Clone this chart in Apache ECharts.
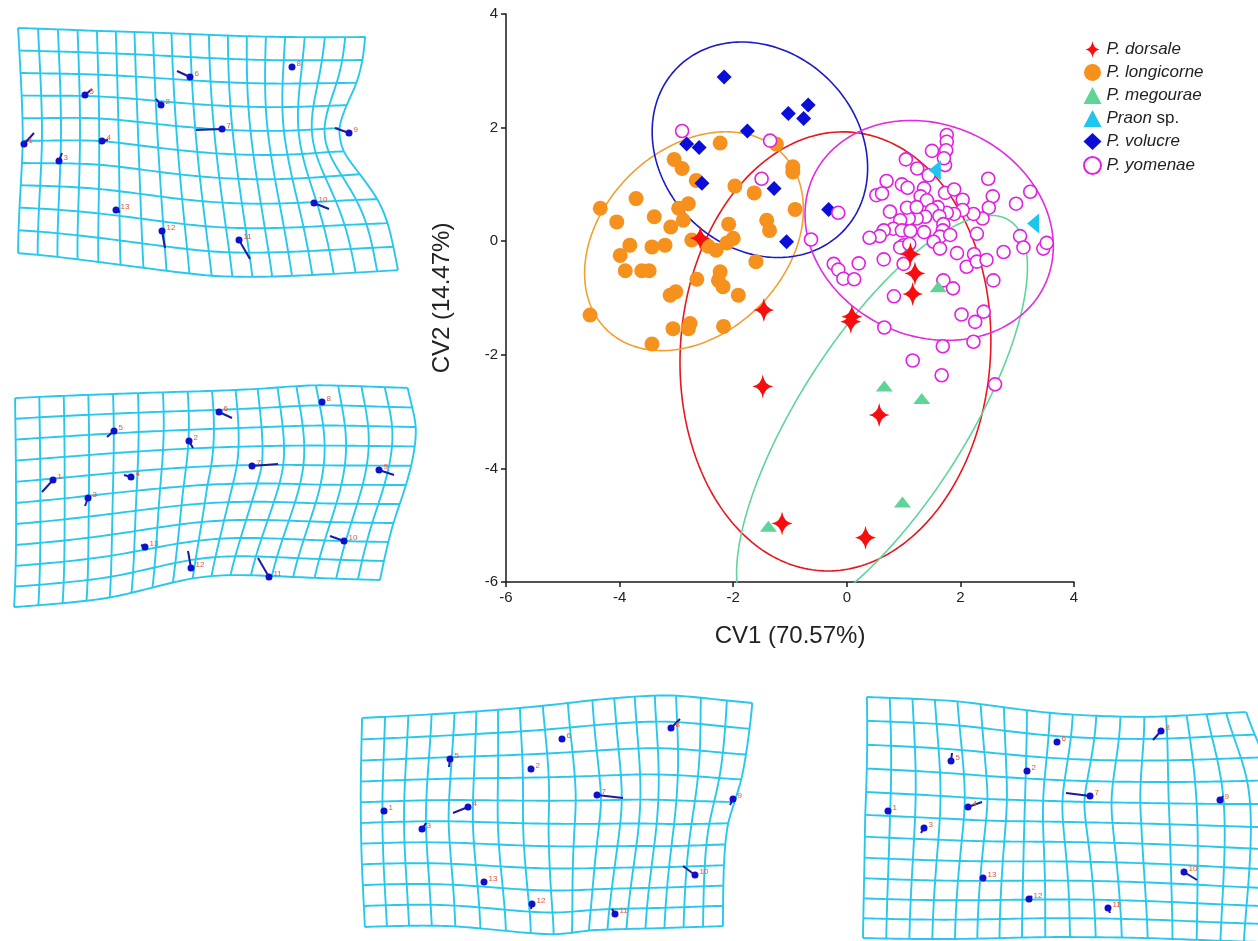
<!DOCTYPE html>
<html>
<head>
<meta charset="utf-8">
<script src="https://cdn.jsdelivr.net/npm/echarts@6/dist/echarts.min.js"></script>
<style>
html,body{margin:0;padding:0;background:#fff;}
#chart{width:1258px;height:941px;}
</style>
</head>
<body>
<div id="chart"></div>
<script>
// ---------- CVA scores (CV1, CV2) per species ----------
const dorsale = [[-2.58,0.05],[-1.46,-1.21],[0.09,-1.33],[0.07,-1.42],[-1.48,-2.56],[0.57,-3.06],
  [-1.14,-4.97],[0.33,-5.22],[1.16,-0.93],[1.12,-0.23],[1.20,-0.57]];
const longicorne = [[-2.23,1.73],[-1.24,1.71],[-3.04,1.44],[-2.90,1.28],[-0.95,1.31],[-0.95,1.22],
  [-2.65,1.07],[-1.97,0.97],[-1.63,0.85],[-3.71,0.75],[-4.34,0.58],[-2.79,0.66],[-2.96,0.58],
  [-2.88,0.37],[-3.10,0.25],[-4.05,0.34],[-3.39,0.43],[-0.91,0.56],[-1.41,0.37],[-1.36,0.19],
  [-2.08,0.30],[-2.00,0.05],[-2.11,-0.03],[-2.73,0.02],[-2.44,-0.09],[-2.30,-0.16],[-3.82,-0.07],
  [-3.99,-0.25],[-3.43,-0.10],[-3.20,-0.07],[-1.60,-0.36],[-3.90,-0.52],[-3.61,-0.52],[-3.48,-0.52],
  [-2.64,-0.67],[-2.23,-0.54],[-2.26,-0.69],[-2.18,-0.80],[-1.91,-0.95],[-3.11,-0.95],[-3.01,-0.89],
  [-4.52,-1.30],[-3.06,-1.54],[-2.76,-1.45],[-2.79,-1.54],[-2.17,-1.50],[-3.43,-1.81]];
const megourae = [[0.66,-2.55],[1.32,-2.77],[0.98,-4.59],[-1.38,-5.02],[1.61,-0.80]];
const praon = [[1.55,1.25],[3.28,0.31]];
const volucre = [[-2.16,2.89],[-1.03,2.25],[-0.68,2.40],[-0.76,2.16],[-1.75,1.94],[-2.82,1.71],
  [-2.60,1.65],[-2.55,1.02],[-1.28,0.93],[-0.32,0.56],[-1.06,-0.01]];
const yomenae = [[1.76,1.87],[1.76,1.75],[1.75,1.60],[1.50,1.59],[1.04,1.44],[1.24,1.28],[1.73,1.34],
  [1.71,1.46],[1.44,1.16],[0.70,1.06],[0.52,0.81],[0.62,0.84],[0.97,1.00],[1.07,0.94],[1.36,0.93],
  [1.30,0.79],[1.41,0.72],[1.73,0.85],[1.89,0.91],[2.04,0.73],[2.49,1.10],[2.57,0.79],[2.50,0.59],
  [2.39,0.40],[2.23,0.48],[2.04,0.55],[1.89,0.48],[1.76,0.50],[1.60,0.60],[1.50,0.55],[1.63,0.44],
  [1.38,0.43],[1.23,0.40],[1.09,0.40],[0.94,0.37],[0.76,0.52],[1.06,0.59],[1.23,0.60],[0.82,0.22],
  [0.65,0.19],[0.58,0.09],[0.40,0.06],[0.97,0.19],[1.12,0.18],[1.36,0.16],[1.70,0.30],[1.69,0.19],
  [1.64,0.08],[1.82,0.11],[1.53,-0.01],[1.64,-0.13],[1.00,-0.07],[0.94,-0.11],[0.65,-0.32],
  [1.00,-0.40],[1.10,-0.05],[1.94,-0.21],[2.29,0.13],[2.24,-0.23],[2.11,-0.45],[2.29,-0.36],
  [2.46,-0.33],[2.76,-0.19],[2.58,-0.69],[2.98,0.66],[3.23,0.87],[3.05,0.09],[3.11,-0.11],
  [3.46,-0.13],[3.52,-0.03],[0.21,-0.39],[-0.23,-0.40],[-0.15,-0.50],[-0.06,-0.66],[0.13,-0.67],
  [-0.15,0.50],[-0.63,0.03],[0.83,-0.97],[1.70,-0.69],[1.87,-0.83],[2.02,-1.29],[2.26,-1.42],
  [2.41,-1.24],[2.23,-1.77],[1.69,-1.85],[1.16,-2.10],[1.67,-2.36],[2.61,-2.52],[0.66,-1.52],
  [-2.90,1.94],[-1.35,1.77],[-1.50,1.10]];

// 95% confidence ellipses: [centre x, centre y, semi-major, semi-minor, angle in degrees]
const ellDorsale = [-0.20, -1.94, 3.87, 2.73, 86];
const ellLongicorne = [-2.69, 0.00, 2.19, 1.62, 45];
const ellMegourae = [0.62, -3.15, 4.17, 1.47, 57.5];
const ellVolucre = [-1.53, 1.61, 2.05, 1.73, -45];
const ellYomenae = [1.45, 0.19, 2.25, 1.86, -25];

const axisTicks = [-6, -4, -2, 0, 2, 4];

// ---------- deformation grids (thin-plate spline) ----------
// control nodes: [column, row, x, y] in each panel's local frame
const warpA = [[0,0,18,8],[4,0,97,11],[9,0,190,14],[14,0,285,17],[18,0,365,17],
  [0,5,23,121],[4,5,99,117],[9,5,197,132],[14,5,291,135],
  [18,1,363,40],[18,2,358,63],[18,3,347,85],[18,4,337,108],[18,5,341,132],[18,6,360,153],
  [18,7,380,180],[18,8,388,203],[18,9,393,227],
  [0,10,18,233],[4,10,98,242],[9,10,212,256],[14,10,312,255],[18,10,398,250]];
const warpB = [[0,0,15,23],[4,0,113,19],[8,0,212,16],[10,0,258,14],[13,0,315,10],[17,0,407,13],
  [0,5,16,128],[4,5,113,117],[8,5,200,109],[10,4,274,90],[13,5,320,112],
  [17,2,417,52],[17,5,406,110],[17,7,393,148],
  [0,10,14,232],[4,10,110,223],[8,10,193,203],[10,10,230,200],[13,10,293,202],[17,10,380,205]];
const warpC = [[0,0,7,38],[4,0,100,33],[8,0,187,26],[10,0,238,20],[14,0,320,15],[17,0,398,23],
  [0,5,6,143],[4,5,89,140],[8,5,187,144],[10,4,260,122],[14,5,320,147],
  [17,3,387,100],[17,5,372,143],
  [0,10,10,247],[4,10,100,246],[8,10,200,255],[10,10,233,250],[17,10,368,246]];
const warpD = [[0,0,12,17],[4,0,102,21],[8,0,195,33],[12,0,290,37],[17,0,390,32],
  [0,5,10,135],[5,4,143,122],[8,4,187,120],[10,4,213,122],[12,5,290,143],
  [17,3,418,100],[17,6,420,170],
  [0,11,8,258],[4,11,100,259],[8,11,190,257],[12,11,293,258],[17,11,412,262]];
// smoothing of the spline fit: edge nodes are held tighter than interior nodes
const edgeSmoothing = 3;
const innerSmoothing = 30;

// landmarks: [number, x, y, vector end x, vector end y]
const lmA = [[1,24,124,34,113],[2,161,85,156,79],[3,59,141,62,133],[4,102,121,108,120],
  [5,85,75,92,69],[6,190,57,177,51],[7,222,109,196,110],[8,292,47,293,46],[9,349,113,335,108],
  [10,314,183,329,189],[11,239,220,250,239],[12,162,211,165,228],[13,116,190,120,192]];
const lmB = [[1,53,105,42,117],[2,189,66,193,73],[3,88,123,85,131],[4,131,102,124,100],
  [5,114,56,107,62],[6,219,37,232,43],[7,252,91,278,89],[8,322,27,322,27],[9,379,95,394,100],
  [10,344,166,330,161],[11,269,202,258,183],[12,191,193,188,176],[13,145,172,141,170]];
const lmC = [[1,29,131,29,131],[2,176,89,176,89],[3,67,149,71,143],[4,113,127,98,133],
  [5,95,79,94,87],[6,207,59,207,59],[7,242,115,268,118],[8,316,48,325,39],[9,378,119,375,125],
  [10,340,195,328,186],[11,260,234,257,229],[12,177,224,176,229],[13,129,202,129,202]];
const lmD = [[1,33,131,33,131],[2,172,91,172,91],[3,69,148,66,153],[4,113,127,127,122],
  [5,96,81,97,73],[6,202,62,202,62],[7,235,116,211,113],[8,306,51,298,60],[9,365,120,368,116],
  [10,329,192,342,200],[11,253,228,255,233],[12,174,219,177,216],[13,128,198,128,198]];

// ---------- helpers ----------
function ellipse(p) {
  const [cx, cy, a, b, deg] = p;
  const t0 = deg * Math.PI / 180, c = Math.cos(t0), s = Math.sin(t0);
  const pts = [];
  for (let i = 0; i <= 240; i++) {
    const t = i / 240 * 2 * Math.PI;
    const ex = a * Math.cos(t), ey = b * Math.sin(t);
    pts.push([cx + ex * c - ey * s, cy + ex * s + ey * c]);
  }
  return pts;
}

function solveLinear(M, rhs) {
  const n = rhs.length;
  const A = M.map((r, i) => r.concat([rhs[i]]));
  for (let k = 0; k < n; k++) {
    let piv = k;
    for (let i = k + 1; i < n; i++) if (Math.abs(A[i][k]) > Math.abs(A[piv][k])) piv = i;
    [A[k], A[piv]] = [A[piv], A[k]];
    for (let i = k + 1; i < n; i++) {
      const f = A[i][k] / A[k][k];
      for (let j = k; j <= n; j++) A[i][j] -= f * A[k][j];
    }
  }
  const x = new Array(n).fill(0);
  for (let i = n - 1; i >= 0; i--) {
    let s = A[i][n];
    for (let j = i + 1; j < n; j++) s -= A[i][j] * x[j];
    x[i] = s / A[i][i];
  }
  return x;
}

function kernel(r2) { return r2 === 0 ? 0 : r2 * Math.log(r2); }

function tps(ctrl, cols, rows) {
  const n = ctrl.length, m = n + 3;
  const L = [];
  for (let i = 0; i < m; i++) L.push(new Array(m).fill(0));
  for (let i = 0; i < n; i++) {
    const onEdge = ctrl[i][0] === 0 || ctrl[i][0] === cols || ctrl[i][1] === 0 || ctrl[i][1] === rows;
    for (let j = 0; j < n; j++) {
      const du = ctrl[i][0] - ctrl[j][0], dv = ctrl[i][1] - ctrl[j][1];
      L[i][j] = kernel(du * du + dv * dv);
    }
    L[i][i] += onEdge ? edgeSmoothing : innerSmoothing;
    L[i][n] = 1; L[i][n + 1] = ctrl[i][0]; L[i][n + 2] = ctrl[i][1];
    L[n][i] = 1; L[n + 1][i] = ctrl[i][0]; L[n + 2][i] = ctrl[i][1];
  }
  const wx = solveLinear(L, ctrl.map(p => p[2]).concat([0, 0, 0]));
  const wy = solveLinear(L, ctrl.map(p => p[3]).concat([0, 0, 0]));
  return function (u, v) {
    let x = wx[n] + wx[n + 1] * u + wx[n + 2] * v;
    let y = wy[n] + wy[n + 1] * u + wy[n + 2] * v;
    for (let i = 0; i < n; i++) {
      const du = u - ctrl[i][0], dv = v - ctrl[i][1];
      const k = kernel(du * du + dv * dv);
      x += wx[i] * k; y += wy[i] * k;
    }
    return [x, y];
  };
}

function meshLines(ctrl, cols, rows) {
  const f = tps(ctrl, cols, rows), out = [], st = 0.2;
  for (let r = 0; r <= rows; r++) {
    const pts = [];
    for (let u = 0; u <= cols + 1e-9; u += st) pts.push(f(u, r));
    out.push({ coords: pts });
  }
  for (let c = 0; c <= cols; c++) {
    const pts = [];
    for (let v = 0; v <= rows + 1e-9; v += st) pts.push(f(c, v));
    out.push({ coords: pts });
  }
  return out;
}

// ---------- option ----------
const FONT = 'Arial, "Liberation Sans", Helvetica, sans-serif';
const panels = [
  { box: { left: 0, top: 20, width: 420, height: 260 }, ctrl: warpA, cols: 18, rows: 10, lm: lmA },
  { box: { left: 0, top: 375, width: 420, height: 240 }, ctrl: warpB, cols: 17, rows: 10, lm: lmB },
  { box: { left: 355, top: 680, width: 420, height: 261 }, ctrl: warpC, cols: 17, rows: 10, lm: lmC },
  { box: { left: 855, top: 680, width: 403, height: 261 }, ctrl: warpD, cols: 17, rows: 11, lm: lmD }
];

const grids = [{ left: 506, top: 14, width: 568, height: 568 }];
const axisCommon = {
  type: 'value', gridIndex: 0, min: axisTicks[0], max: axisTicks[axisTicks.length - 1],
  interval: axisTicks[1] - axisTicks[0],
  axisLine: { onZero: false, lineStyle: { color: '#1a1a1a', width: 1.5 } },
  axisTick: { length: 5, lineStyle: { color: '#1a1a1a', width: 1.5 } },
  axisLabel: { fontSize: 15, color: '#222', fontFamily: FONT, margin: 8 },
  splitLine: { show: false },
  nameLocation: 'middle',
  nameTextStyle: { fontSize: 24, color: '#222', fontFamily: FONT }
};
const xAxes = [Object.assign({}, axisCommon, { name: 'CV1 (70.57%)', nameGap: 42 })];
const yAxes = [Object.assign({}, axisCommon, { name: 'CV2 (14.47%)', nameGap: 52 })];

const series = [];
function ellSeries(name, p, color) {
  series.push({
    name: name, type: 'line', xAxisIndex: 0, yAxisIndex: 0, data: ellipse(p),
    showSymbol: false, symbol: 'none', smooth: false, silent: true, clip: true, z: 2,
    lineStyle: { color: color, width: 1.6 }
  });
}
ellSeries('ell-dorsale', ellDorsale, '#e8161d');
ellSeries('ell-longicorne', ellLongicorne, '#f0a030');
ellSeries('ell-megourae', ellMegourae, '#62d39a');
ellSeries('ell-volucre', ellVolucre, '#1a1ac8');
ellSeries('ell-yomenae', ellYomenae, '#e32ae3');

const starPath = 'path://M0,-11 Q1.3,-1.3 9,0 Q1.3,1.3 0,11 Q-1.3,1.3 -9,0 Q-1.3,-1.3 0,-11 Z';
function pts(name, data, symbol, size, style, extra) {
  series.push(Object.assign({
    name: name, type: 'scatter', xAxisIndex: 0, yAxisIndex: 0, data: data,
    symbol: symbol, symbolSize: size, itemStyle: Object.assign({ opacity: 1 }, style), z: 3
  }, extra || {}));
}
pts('P. longicorne', longicorne, 'circle', 15, { color: '#f5911c' });
pts('P. volucre', volucre, 'diamond', 15, { color: '#0a0ed8' });
pts('P. yomenae', yomenae, 'circle', 13, { color: '#ffffff', borderColor: '#e21fe2', borderWidth: 1.6 });
pts('P. megourae', megourae, 'triangle', [17, 11], { color: '#5fd497' });
pts('Praon sp.', praon, 'triangle', [20, 12], { color: '#1ec6ec' }, { symbolRotate: 90 });
pts('P. dorsale', dorsale, starPath, [21, 24], { color: '#f70d0d' });

panels.forEach((p, i) => {
  const gi = i + 1;
  grids.push(Object.assign({}, p.box));
  xAxes.push({ type: 'value', gridIndex: gi, min: 0, max: p.box.width, show: false });
  yAxes.push({ type: 'value', gridIndex: gi, min: 0, max: p.box.height, inverse: true, show: false });
  series.push({
    type: 'lines', coordinateSystem: 'cartesian2d', xAxisIndex: gi, yAxisIndex: gi,
    polyline: true, silent: true, z: 1,
    lineStyle: { color: '#28c8ee', width: 1.9, opacity: 1 },
    data: meshLines(p.ctrl, p.cols, p.rows)
  });
  series.push({
    type: 'lines', coordinateSystem: 'cartesian2d', xAxisIndex: gi, yAxisIndex: gi,
    silent: true, z: 2,
    lineStyle: { color: '#1b1ba0', width: 2, opacity: 1 },
    data: p.lm.filter(l => l[1] !== l[3] || l[2] !== l[4]).map(l => ({ coords: [[l[1], l[2]], [l[3], l[4]]] }))
  });
  series.push({
    type: 'scatter', xAxisIndex: gi, yAxisIndex: gi, silent: true, z: 3,
    symbol: 'circle', symbolSize: 7, itemStyle: { color: '#1010cc', opacity: 1 },
    data: p.lm.map(l => [l[1], l[2], l[0]]),
    label: {
      show: true, position: 'right', distance: 1, offset: [0, -3],
      formatter: q => String(q.value[2]), fontSize: 8, color: '#e4553c', fontFamily: FONT
    }
  });
});

const option = {
  animation: false,
  backgroundColor: '#ffffff',
  grid: grids,
  xAxis: xAxes,
  yAxis: yAxes,
  legend: {
    data: ['P. dorsale', 'P. longicorne', 'P. megourae', 'Praon sp.', 'P. volucre', 'P. yomenae'],
    orient: 'vertical', left: 1078, top: 36, itemGap: 6, itemWidth: 18, itemHeight: 17,
    selectedMode: false,
    formatter: n => n === 'Praon sp.' ? '{i|Praon} {r|sp.}' : '{i|' + n + '}',
    textStyle: {
      fontSize: 17, color: '#222', fontFamily: FONT,
      rich: {
        i: { fontSize: 17, fontStyle: 'italic', color: '#222', fontFamily: FONT },
        r: { fontSize: 17, fontStyle: 'normal', color: '#222', fontFamily: FONT }
      }
    }
  },
  series: series
};

const chart = echarts.init(document.getElementById('chart'), null, { renderer: 'canvas' });
chart.setOption(option);
</script>
</body>
</html>
